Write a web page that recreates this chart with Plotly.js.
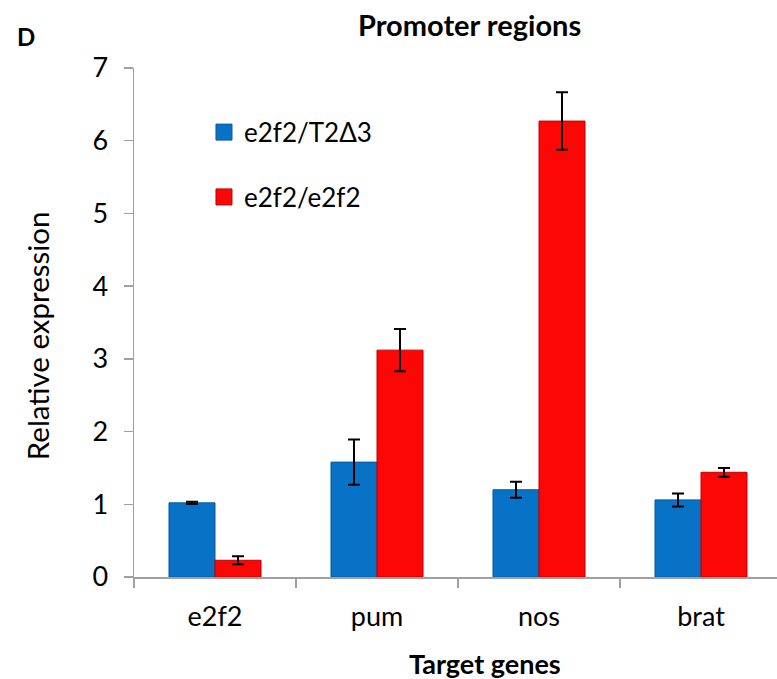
<!DOCTYPE html>
<html><head><meta charset="utf-8">
<script src="https://cdn.plot.ly/plotly-3.0.1.min.js"></script>
<style>html,body{margin:0;background:#fff;overflow:hidden;width:777px;height:679px}#chart{width:782px;height:679px}</style>
</head><body><div id="chart"></div>
<script>
const categories = ["e2f2", "pum", "nos", "brat"];
const seriesNames = ["e2f2/T2Δ3", "e2f2/e2f2"];
const blueValues = [1.02, 1.58, 1.20, 1.06];
const blueErrors = [0.015, 0.31, 0.11, 0.09];
const redValues = [0.23, 3.12, 6.27, 1.44];
const redErrors = [0.055, 0.29, 0.395, 0.06];
const yTicks = [0, 1, 2, 3, 4, 5, 6, 7];

const font = "Lato, 'Open Sans', sans-serif";
const blue = "#0872c6", red = "#fc0606";
const errStyle = (arr) => ({type: "data", array: arr, visible: true, color: "#000", thickness: 2, width: 6});

const traces = [
  {type: "bar", name: seriesNames[0], x: categories, y: blueValues, error_y: errStyle(blueErrors),
   showlegend: false, marker: {color: blue, line: {color: "#0a5a9a", width: 1}}},
  {type: "bar", name: seriesNames[1], x: categories, y: redValues, error_y: errStyle(redErrors),
   showlegend: false, marker: {color: red, line: {color: "#c00000", width: 1}}},
  {type: "scatter", mode: "markers", name: seriesNames[0], x: [null], y: [null], legendgroup: "a",
   marker: {symbol: "square", size: 16, color: blue, line: {color: "#0a5a9a", width: 1}}},
  {type: "scatter", mode: "markers", name: seriesNames[1], x: [null], y: [null], legendgroup: "b",
   marker: {symbol: "square", size: 16, color: red, line: {color: "#c00000", width: 1}}}
];

const layout = {
  width: 782, height: 679,
  margin: {l: 134, r: 0, t: 68, b: 102},
  paper_bgcolor: "#fff", plot_bgcolor: "#fff",
  barmode: "group", bargap: 0.432, bargroupgap: 0,
  font: {family: font, size: 22, color: "#000"},
  showlegend: true,
  legend: {x: 0.108, y: 0.92, xanchor: "left", yanchor: "top", bgcolor: "rgba(0,0,0,0)",
           font: {size: 26, family: font}, tracegroupgap: 28, itemwidth: 30, itemsizing: "trace"},
  xaxis: {type: "category", tickvals: categories, ticktext: categories, showline: true, linecolor: "#a0a0a0", linewidth: 1.5,
          ticks: "outside", tickson: "boundaries", ticklen: 9, tickcolor: "#a0a0a0", tickwidth: 1.5,
          ticklabelstandoff: 15,
          tickfont: {size: 27, family: font}, showgrid: false, zeroline: false},
  yaxis: {range: [0, 7], tickvals: yTicks, showline: true, linecolor: "#a0a0a0", linewidth: 1.5,
          ticks: "outside", ticklen: 9, tickcolor: "#a0a0a0", tickwidth: 1.5, showgrid: false, zeroline: false,
          ticklabelstandoff: 10,
          tickfont: {size: 27, family: font}},
  annotations: [
    {text: "<b>Promoter regions</b>", xref: "paper", yref: "paper", x: 0.5185, y: 1.0, yshift: 44,
     xanchor: "center", yanchor: "middle", showarrow: false, font: {size: 29, family: font}},
    {text: "<b>D</b>", xref: "paper", yref: "paper", x: -0.1836, y: 1.0, yshift: 32,
     xanchor: "left", yanchor: "middle", showarrow: false, font: {size: 24, family: font}},
    {text: "Relative expression", xref: "paper", yref: "paper", x: -0.1497, y: 0.475,
     xanchor: "center", yanchor: "middle", textangle: -90, showarrow: false, font: {size: 29.5, family: font}},
    {text: "<b>Target genes</b>", xref: "paper", yref: "paper", x: 0.542, y: 0, yshift: -86,
     xanchor: "center", yanchor: "middle", showarrow: false, font: {size: 27, family: font}}
  ]
};
Plotly.newPlot("chart", traces, layout, {displayModeBar: false, staticPlot: true});
</script></body></html>
